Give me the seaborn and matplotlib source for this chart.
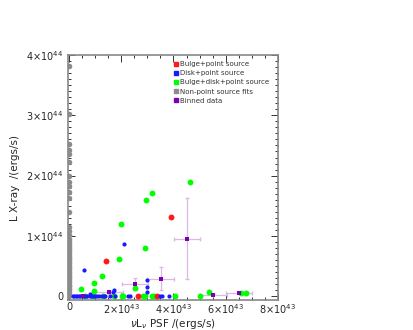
import matplotlib
matplotlib.use('Agg')
import matplotlib.pyplot as plt
import matplotlib.ticker as ticker
import seaborn as sns
import numpy as np

# x in units of 1e43 erg/s, y in units of 1e44 erg/s
bulge_x = [3.90, 1.41, 2.62, 3.36]
bulge_y = [1.31, 0.58, 0.00, 0.00]

disk_x = [2.09, 0.57, 3.00, 2.98, 1.72, 0.78, 1.67, 3.00,
          0.15, 0.20, 0.25, 0.30, 0.36, 0.42, 0.48, 0.55, 0.62, 0.70, 0.78,
          0.85, 0.92, 1.00, 1.08, 1.16, 1.24, 1.32, 1.38,
          1.55, 1.76, 2.27, 2.34, 3.49, 3.55, 3.84]
disk_y = [0.86, 0.43, 0.26, 0.15, 0.10, 0.03, 0.06, 0.06,
          0.00, 0.00, 0.00, 0.00, 0.00, 0.00, 0.00, 0.00, 0.00, 0.00, 0.00,
          0.00, 0.00, 0.00, 0.00, 0.00, 0.00, 0.00, 0.00,
          0.00, 0.00, 0.00, 0.00, 0.00, 0.00, 0.00]

bd_x = [4.64, 3.19, 2.94, 1.99, 2.91, 1.90, 1.25, 0.96, 0.45, 0.97, 2.52, 5.35,
        0.61, 0.93, 1.31, 1.70, 2.02, 2.08, 2.82, 2.91, 3.17, 3.26, 4.06, 5.02,
        6.60, 6.78]
bd_y = [1.90, 1.71, 1.60, 1.20, 0.79, 0.62, 0.33, 0.21, 0.12, 0.08, 0.14, 0.07,
        0.00, 0.00, 0.00, 0.00, 0.00, 0.00, 0.00, 0.00, 0.00, 0.00, 0.00, 0.00,
        0.05, 0.05]

nonpt_y = [3.82, 3.02, 2.52, 2.42, 2.35, 2.22, 2.00, 1.90, 1.82, 1.73, 1.62,
           1.40, 1.15, 1.08, 1.02, 0.95, 0.92, 0.88, 0.85, 0.82, 0.79, 0.76,
           0.73, 0.70, 0.67, 0.64, 0.61, 0.58, 0.55, 0.52, 0.49, 0.46, 0.43,
           0.40, 0.37, 0.34, 0.31, 0.28, 0.25, 0.22, 0.19, 0.16, 0.13, 0.10,
           0.07, 0.04, 0.02, 0.00]
nonpt_x = [0.0] * len(nonpt_y)

bin_x = [0.52, 1.53, 2.53, 3.51, 4.51, 5.53, 6.51]
bin_y = [0.005, 0.067, 0.195, 0.29, 0.95, 0.02, 0.045]
bin_xerr = [0.50, 0.53, 0.50, 0.52, 0.50, 0.53, 0.50]
bin_yerr = [0.01, 0.03, 0.10, 0.19, 0.67, 0.01, 0.01]

sns.set_style('ticks')
plt.rcParams['font.family'] = ['DejaVu Sans']

fig = plt.figure(figsize=(4.14, 3.30), dpi=100)
ax = fig.add_axes([0.164, 0.091, 0.507, 0.742])

sc = 1e43
sy = 1e44
ax.errorbar(np.array(bin_x) * sc, np.array(bin_y) * sy,
            xerr=np.array(bin_xerr) * sc, yerr=np.array(bin_yerr) * sy,
            fmt='none', ecolor='#dcb8e6', elinewidth=0.9, capsize=1.5, zorder=1)

sns.scatterplot(x=np.array(nonpt_x) * sc, y=np.array(nonpt_y) * sy, ax=ax,
                color='#8c8c8c', s=16, linewidth=0, zorder=2)
sns.scatterplot(x=np.array(bd_x) * sc, y=np.array(bd_y) * sy, ax=ax,
                color='#00ff00', s=18, linewidth=0, zorder=3)
sns.scatterplot(x=np.array(bulge_x) * sc, y=np.array(bulge_y) * sy, ax=ax,
                color='#ff1a1a', s=18, linewidth=0, zorder=4)
sns.scatterplot(x=np.array(disk_x) * sc, y=np.array(disk_y) * sy, ax=ax,
                color='#1a1aff', s=9, linewidth=0, zorder=5)
sns.scatterplot(x=np.array(bin_x) * sc, y=np.array(bin_y) * sy, ax=ax,
                color='#7a00b4', marker='s', s=12, linewidth=0, zorder=6)

ax.set_xlim(-0.05e43, 8e43)
ax.set_ylim(-0.065e44, 4e44)


def sci(v, pos):
    if v == 0:
        return '0'
    e = int(np.floor(np.log10(abs(v)) + 1e-9))
    m = v / 10 ** e
    return r'%d$\times$10$^{%d}$' % (round(m), e)


ax.xaxis.set_major_locator(ticker.MultipleLocator(2e43))
ax.xaxis.set_minor_locator(ticker.MultipleLocator(0.5e43))
ax.yaxis.set_major_locator(ticker.MultipleLocator(1e44))
ax.yaxis.set_minor_locator(ticker.MultipleLocator(1e43))
ax.xaxis.set_major_formatter(ticker.FuncFormatter(sci))
ax.yaxis.set_major_formatter(ticker.FuncFormatter(sci))
ax.tick_params(which='both', direction='in', top=True, right=True,
               labelsize=7, color='#333333', width=0.7)
ax.tick_params(which='major', length=5)
ax.tick_params(which='minor', length=2.5)
ax.tick_params(axis='x', pad=1.5)
for s in ax.spines.values():
    s.set_color('#888888')
    s.set_linewidth(1.2)

ax.set_xlabel(r'$\nu$L$_\nu$ PSF /(ergs/s)', fontsize=7.5)
ax.xaxis.set_label_coords(0.5, -0.068)
ax.set_ylabel('L X-ray  /(ergs/s)', fontsize=7.5, labelpad=4)

names = ['Bulge+point source', 'Disk+point source', 'Bulge+disk+point source',
         'Non-point source fits', 'Binned data']
cols = ['#ff1a1a', '#1a1aff', '#00ff00', '#8c8c8c', '#7a00b4']
handles = [plt.Line2D([], [], marker='s', ls='none', color=c, markersize=2.5)
           for c in cols]
ax.legend(handles, names, loc='upper left', bbox_to_anchor=(0.48, 0.995),
          frameon=False, fontsize=5, handlelength=0.6, handletextpad=0.4,
          labelspacing=0.45, borderpad=0.2, labelcolor='#333333')

fig.savefig('out.png', dpi=100)
